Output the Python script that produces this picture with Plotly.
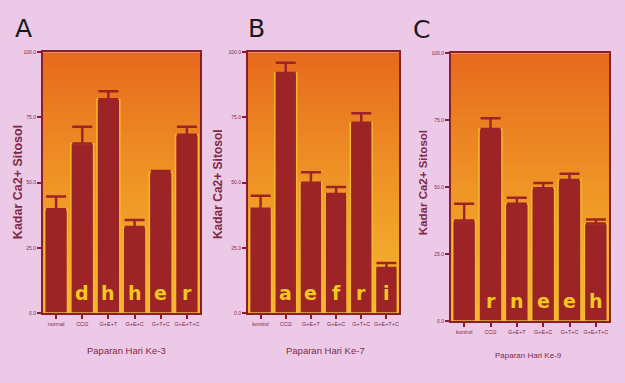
import plotly.graph_objects as go

categories_A = ["normal", "CCl2", "G+E+T", "G+E+C", "G+T+C", "G+E+T+C"]
categories_B = ["kontrol", "CCl2", "G+E+T", "G+E+C", "G+T+C", "G+E+T+C"]
categories_C = ["kontrol", "CCl2", "G+E+T", "G+E+C", "G+T+C", "G+E+T+C"]

means_A = [39.8, 65.0, 82.0, 33.0, 54.0, 68.4]
upper_A = [44.7, 71.4, 85.0, 35.7, 54.5, 71.4]
letters_A = ["", "d", "h", "h", "e", "r"]

means_B = [40.0, 92.0, 50.0, 45.6, 73.0, 17.3]
upper_B = [45.0, 96.0, 54.0, 48.3, 76.6, 19.2]
letters_B = ["", "a", "e", "f", "r", "i"]

means_C = [37.5, 71.7, 43.8, 49.6, 52.6, 36.4]
upper_C = [43.8, 75.7, 46.0, 51.5, 55.0, 37.9]
letters_C = ["", "r", "n", "e", "e", "h"]

y_ticks = [0, 25, 50, 75, 100]
panel_labels = ["A", "B", "C"]
x_titles = ["Paparan Hari Ke-3", "Paparan Hari Ke-7", "Paparan Hari Ke-9"]
y_title = "Kadar Ca2+ Sitosol"

W, H = 625, 383
PINK = "#edc9e8"
BAR = "#9c2427"
EDGE = "#f4b92f"
MAROON = "#8a1e2a"
TXT = "#7e2a44"

def px(x):
    return x / W

def py(y):
    return 1 - y / H

# plot-area pixel boxes (left, right, top, bottom)
boxes = [(43, 200, 50, 315), (248, 399, 50, 315), (451, 609, 51, 323)]
panels = [
    (categories_A, means_A, upper_A, letters_A),
    (categories_B, means_B, upper_B, letters_B),
    (categories_C, means_C, upper_C, letters_C),
]
ytitle_pos = [(18, 182, 12.5), (218, 184, 12), (423, 183, 11.5)]
xtitle_pos = [(126, 353, 9.5), (326, 353, 9.5), (528, 358, 8)]
plabel_pos = [(24, 26), (256, 26), (421, 27)]

fig = go.Figure()
annotations = []
for i, (cats, means, upper, letters) in enumerate(panels):
    sfx = "" if i == 0 else str(i + 1)
    xa, ya = "x" + sfx, "y" + sfx
    n = len(cats)
    xs = list(range(n))
    # gradient background (drawn in the image layer, below bars)
    fig.add_trace(go.Heatmap(
        x=[-0.5, n - 0.5], y=[0, 100], z=[[0, 0], [1, 1]],
        zsmooth="best", showscale=False, hoverinfo="skip",
        colorscale=[[0, "#f5b82e"], [0.5, "#ef9526"], [1, "#e76a1d"]],
        xaxis=xa, yaxis=ya))
    fig.add_trace(go.Bar(
        x=xs, y=means, width=0.87,
        marker=dict(color=BAR, line=dict(color=EDGE, width=1.5)),
        error_y=dict(type="data", symmetric=False,
                     array=[u - m for u, m in zip(upper, means)],
                     arrayminus=[0] * n, color=BAR, thickness=2.5, width=10),
        showlegend=False, xaxis=xa, yaxis=ya))
    l, r, t, b = boxes[i]
    fig.layout["xaxis" + sfx] = dict(
        domain=[px(l), px(r)], anchor=ya, range=[-0.5, n - 0.5],
        tickmode="array", tickvals=xs, ticktext=cats,
        ticks="outside", ticklen=4, tickwidth=2, tickcolor=MAROON,
        tickfont=dict(size=5.5, color=TXT, family="Liberation Sans"),
        showline=True, linecolor=MAROON, linewidth=2, mirror=True,
        showgrid=False, zeroline=False, fixedrange=True)
    fig.layout["yaxis" + sfx] = dict(
        domain=[py(b), py(t)], anchor=xa, range=[0, 100],
        tickmode="array", tickvals=y_ticks, tickformat=".1f",
        ticks="outside", ticklen=4, tickwidth=2, tickcolor=MAROON,
        tickfont=dict(size=5, color=TXT, family="Liberation Sans"),
        showline=True, linecolor=MAROON, linewidth=2, mirror=True,
        showgrid=False, zeroline=False, fixedrange=True)
    for x, letter in zip(xs, letters):
        if letter:
            annotations.append(dict(
                x=x, y=7.5, xref=xa, yref=ya, text="<b>" + letter + "</b>",
                xanchor="center", yanchor="middle",
                showarrow=False, font=dict(size=19, color="#f7c71e", family="DejaVu Sans")))
    yx, yy, ys = ytitle_pos[i]
    annotations.append(dict(
        x=px(yx), y=py(yy), xref="paper", yref="paper", text="<b>" + y_title + "</b>",
        xanchor="center", yanchor="middle",
        textangle=-90, showarrow=False,
        font=dict(size=ys, color=TXT, family="Liberation Sans")))
    xx, xy, xs_ = xtitle_pos[i]
    annotations.append(dict(
        x=px(xx), y=py(xy), xref="paper", yref="paper", text=x_titles[i],
        xanchor="center", yanchor="middle",
        showarrow=False, font=dict(size=xs_, color=TXT, family="Liberation Sans Narrow, Liberation Sans")))
    lx, ly = plabel_pos[i]
    annotations.append(dict(
        x=px(lx), y=py(ly), xref="paper", yref="paper", text=panel_labels[i],
        xanchor="center", yanchor="middle",
        showarrow=False, font=dict(size=25, color="#1a1a1a", family="DejaVu Sans")))

fig.update_layout(
    width=W, height=H, margin=dict(l=0, r=0, t=0, b=0),
    paper_bgcolor=PINK, plot_bgcolor=PINK,
    annotations=annotations, showlegend=False)

fig.write_html("out.html", config={"displayModeBar": False},
               post_script="document.body.style.margin='0';document.body.style.background='%s';" % PINK)
